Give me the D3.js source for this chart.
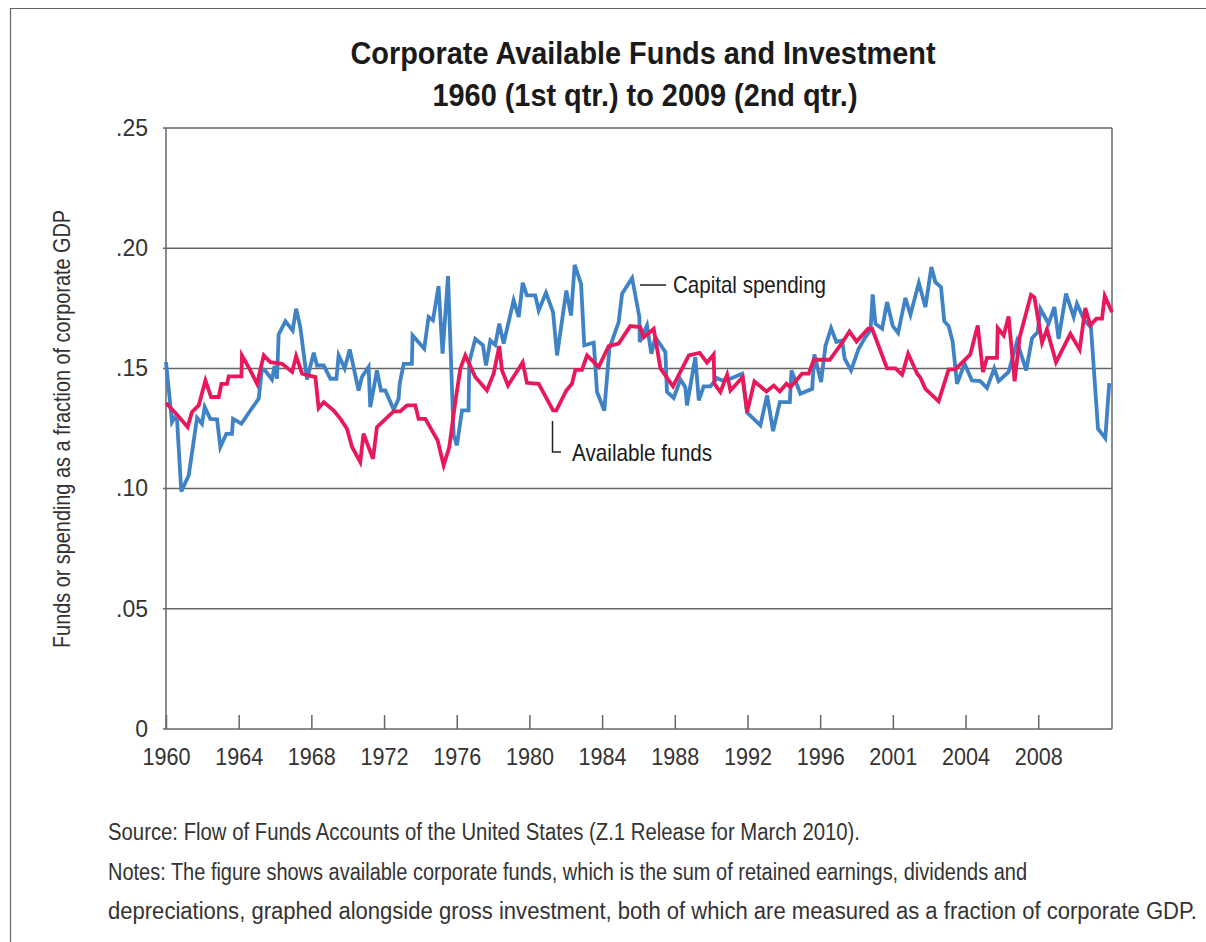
<!DOCTYPE html>
<html>
<head>
<meta charset="utf-8">
<script src="https://cdn.jsdelivr.net/npm/d3@7"></script>
<style>
  body { margin: 0; background: #fff; }
  svg { display: block; }
  text { font-family: "Liberation Sans", Arial, sans-serif; }
</style>
</head>
<body>
<svg id="chart" width="1206" height="942"></svg>
<script>
// capital spending (blue) - [year, fraction of corporate GDP]
var capitalSpending = [
  [1960.00,.1526],[1960.33,.1277],[1960.46,.1295],[1960.61,.1284],[1960.84,.0988],[1961.25,.1055],
  [1961.71,.1295],[1961.98,.1270],[1962.13,.1339],[1962.44,.1290],[1962.81,.1288],[1962.99,.1173],
  [1963.32,.1228],[1963.63,.1228],[1963.69,.1290],[1964.15,.1270],[1964.64,.1325],[1965.10,.1374],
  [1965.28,.1499],[1965.47,.1490],[1965.83,.1454],[1965.98,.1510],[1966.11,.1457],[1966.20,.1641],
  [1966.57,.1696],[1966.97,.1658],[1967.16,.1748],[1967.39,.1672],[1967.76,.1454],[1968.13,.1565],
  [1968.31,.1512],[1968.68,.1512],[1969.05,.1457],[1969.38,.1457],[1969.50,.1554],[1969.83,.1500],
  [1970.11,.1579],[1970.60,.1408],[1970.78,.1464],[1971.15,.1506],[1971.24,.1339],[1971.61,.1492],
  [1971.83,.1408],[1972.07,.1408],[1972.53,.1329],[1972.80,.1374],[1972.86,.1436],[1973.08,.1519],
  [1973.53,.1519],[1973.57,.1637],[1974.21,.1582],[1974.45,.1714],[1974.69,.1700],[1975.00,.1842],
  [1975.22,.1561],[1975.52,.1884],[1975.83,.1221],[1976.01,.1180],[1976.29,.1325],[1976.65,.1325],
  [1976.69,.1526],[1977.02,.1623],[1977.44,.1596],[1977.61,.1512],[1977.85,.1616],[1978.12,.1598],
  [1978.34,.1686],[1978.58,.1603],[1979.13,.1783],[1979.41,.1714],[1979.63,.1856],[1979.86,.1804],
  [1980.32,.1804],[1980.51,.1741],[1980.91,.1815],[1981.30,.1734],[1981.52,.1554],[1982.03,.1824],
  [1982.29,.1720],[1982.49,.1931],[1982.84,.1852],[1983.02,.1596],[1983.54,.1607],[1983.72,.1402],
  [1984.12,.1325],[1984.40,.1582],[1984.91,.1693],[1985.10,.1811],[1985.65,.1876],[1986.05,.1714],
  [1986.07,.1610],[1986.47,.1679],[1986.71,.1561],[1986.93,.1630],[1987.48,.1568],[1987.57,.1402],
  [1987.94,.1377],[1988.31,.1454],[1988.58,.1422],[1988.67,.1346],[1989.13,.1547],[1989.32,.1367],
  [1989.59,.1425],[1989.96,.1425],[1990.32,.1460],[1990.60,.1450],[1991.06,.1457],[1991.70,.1478],
  [1991.98,.1316],[1992.71,.1263],[1993.08,.1388],[1993.41,.1239],[1993.78,.1360],[1994.33,.1360],
  [1994.42,.1492],[1994.91,.1395],[1995.56,.1415],[1995.68,.1558],[1996.05,.1443],[1996.29,.1593],
  [1996.60,.1668],[1996.89,.1610],[1997.21,.1616],[1997.35,.1540],[1997.70,.1492],[1998.12,.1582],
  [1998.49,.1630],[1998.77,.1658],[1998.89,.1808],[1999.04,.1686],[1999.41,.1665],[1999.68,.1776],
  [2000.00,.1676],[2000.29,.1648],[2000.69,.1793],[2000.97,.1723],[2001.43,.1856],[2001.79,.1755],
  [2002.12,.1922],[2002.34,.1859],[2002.65,.1838],[2002.83,.1696],[2003.07,.1676],[2003.29,.1612],
  [2003.53,.1436],[2003.95,.1519],[2004.35,.1450],[2004.81,.1447],[2005.18,.1418],[2005.58,.1500],
  [2005.82,.1447],[2006.37,.1485],[2006.83,.1612],[2007.34,.1492],[2007.66,.1626],[2007.97,.1651],
  [2008.12,.1748],[2008.57,.1686],[2008.89,.1755],[2009.12,.1623],[2009.53,.1811],[2009.95,.1714],
  [2010.13,.1769],[2010.54,.1700],[2010.90,.1672],[2011.29,.1249],[2011.69,.1210],[2011.91,.1439]
];

// available funds (red)
var availableFunds = [
  [1960.00,.1356],[1960.61,.1307],[1961.19,.1256],[1961.43,.1319],[1961.80,.1346],[1962.17,.1450],
  [1962.48,.1381],[1962.90,.1381],[1963.05,.1436],[1963.36,.1436],[1963.45,.1467],[1964.15,.1467],
  [1964.18,.1554],[1964.64,.1492],[1965.01,.1436],[1965.38,.1554],[1965.74,.1526],[1966.39,.1519],
  [1966.94,.1485],[1967.16,.1551],[1967.49,.1478],[1967.85,.1471],[1968.22,.1464],[1968.40,.1335],
  [1968.68,.1360],[1969.23,.1325],[1969.60,.1290],[1969.96,.1249],[1970.24,.1173],[1970.69,.1110],
  [1970.87,.1228],[1971.39,.1124],[1971.61,.1256],[1972.16,.1295],[1972.53,.1321],[1972.89,.1321],
  [1973.26,.1346],[1973.72,.1346],[1973.90,.1290],[1974.27,.1290],[1974.95,.1200],[1975.28,.1097],
  [1975.59,.1173],[1975.92,.1360],[1976.20,.1500],[1976.47,.1554],[1977.02,.1464],[1977.66,.1408],
  [1978.03,.1478],[1978.34,.1593],[1978.49,.1492],[1978.82,.1429],[1979.63,.1526],[1979.86,.1440],
  [1980.51,.1436],[1981.30,.1325],[1981.48,.1325],[1982.03,.1408],[1982.34,.1436],[1982.53,.1494],
  [1982.89,.1494],[1983.17,.1554],[1983.81,.1506],[1984.36,.1593],[1984.91,.1603],[1985.55,.1676],
  [1986.10,.1672],[1986.29,.1630],[1986.84,.1665],[1987.21,.1500],[1987.90,.1425],[1988.77,.1554],
  [1989.37,.1565],[1989.77,.1524],[1990.14,.1558],[1990.18,.1436],[1990.51,.1402],[1990.88,.1474],
  [1991.06,.1408],[1991.74,.1464],[1991.98,.1318],[1992.38,.1446],[1993.04,.1404],[1993.45,.1429],
  [1993.78,.1404],[1994.14,.1436],[1994.36,.1422],[1995.00,.1478],[1995.37,.1478],[1995.65,.1536],
  [1996.53,.1536],[1997.21,.1607],[1997.61,.1654],[1998.00,.1612],[1998.64,.1665],[1998.86,.1665],
  [1999.68,.1500],[2000.14,.1500],[2000.51,.1474],[2000.84,.1561],[2001.34,.1478],[2001.51,.1462],
  [2001.79,.1415],[2002.52,.1363],[2003.07,.1496],[2003.44,.1496],[2004.26,.1558],[2004.67,.1679],
  [2004.96,.1485],[2005.18,.1544],[2005.73,.1544],[2005.77,.1668],[2006.10,.1637],[2006.37,.1716],
  [2006.70,.1446],[2006.98,.1630],[2007.60,.1806],[2007.79,.1796],[2008.21,.1607],[2008.48,.1662],
  [2008.98,.1526],[2009.77,.1644],[2010.28,.1578],[2010.59,.1751],[2010.87,.1679],[2011.20,.1707],
  [2011.51,.1707],[2011.66,.1801],[2012.06,.1734]
];

var xTickYears = [1960, 1964, 1968, 1972, 1976, 1980, 1984, 1988, 1992, 1996, 2000, 2004, 2008];
var xTickLabels = ["1960", "1964", "1968", "1972", "1976", "1980", "1984", "1988", "1992", "1996", "2001", "2004", "2008"];
var yTicks = [0, .05, .10, .15, .20, .25];
var yTickLabels = ["0", ".05", ".10", ".15", ".20", ".25"];

var margin = {top: 128, right: 94, bottom: 213, left: 166},
    width = 1206 - margin.left - margin.right,
    height = 942 - margin.top - margin.bottom;

var svg = d3.select("#chart");

// squeeze a text to the width it has in the print (condensed face)
function squeeze(sel, w) {
  sel.attr("textLength", w).attr("lengthAdjust", "spacingAndGlyphs");
}

// frame around the figure
svg.append("path")
  .attr("d", "M10.5,942V8.5H1206")
  .attr("fill", "none")
  .attr("stroke", "#666")
  .attr("stroke-width", 1.2);

// title
svg.append("text")
  .attr("x", 643).attr("y", 64)
  .attr("text-anchor", "middle")
  .attr("font-weight", "bold")
  .attr("font-size", 32)
  .attr("fill", "#1a1a1a")
  .text("Corporate Available Funds and Investment")
  .call(squeeze, 585);
svg.append("text")
  .attr("x", 645).attr("y", 106)
  .attr("text-anchor", "middle")
  .attr("font-weight", "bold")
  .attr("font-size", 32)
  .attr("fill", "#1a1a1a")
  .text("1960 (1st qtr.) to 2009 (2nd qtr.)")
  .call(squeeze, 425);

var g = svg.append("g")
  .attr("transform", "translate(" + margin.left + "," + margin.top + ")");

var x = d3.scaleLinear().domain([1960, 2012.06]).range([0, width]);
var y = d3.scaleLinear().domain([0, .25]).range([height, 0]);

// horizontal grid lines
g.selectAll(".grid")
  .data(yTicks)
  .enter().append("line")
  .attr("class", "grid")
  .attr("x1", -3)
  .attr("x2", width)
  .attr("y1", function(d) { return y(d); })
  .attr("y2", function(d) { return y(d); })
  .attr("stroke", "#666")
  .attr("stroke-width", 1.5);

// side borders
g.append("line").attr("x1", 0).attr("x2", 0).attr("y1", 0).attr("y2", height)
  .attr("stroke", "#666").attr("stroke-width", 1.5);
g.append("line").attr("x1", width).attr("x2", width).attr("y1", 0).attr("y2", height)
  .attr("stroke", "#666").attr("stroke-width", 1.5);

// x axis, ticks pointing up into the plot
var xAxis = g.append("g")
  .attr("transform", "translate(0," + height + ")")
  .call(d3.axisBottom(x)
    .tickValues(xTickYears)
    .tickSize(-14)
    .tickFormat(function(d, i) { return xTickLabels[i]; }));
xAxis.select(".domain").remove();
xAxis.selectAll("line").attr("stroke", "#666").attr("stroke-width", 1.5);
xAxis.selectAll("text")
  .attr("font-family", null)
  .attr("font-size", 23)
  .attr("fill", "#333")
  .attr("y", 28)
  .attr("dy", "0.35em")
  .call(squeeze, 48);

// y axis labels
var yAxis = g.append("g")
  .call(d3.axisLeft(y)
    .tickValues(yTicks)
    .tickSize(0)
    .tickPadding(18)
    .tickFormat(function(d, i) { return yTickLabels[i]; }));
yAxis.select(".domain").remove();
yAxis.selectAll("text")
  .attr("font-size", 23)
  .attr("fill", "#333");

// y axis title
svg.append("text")
  .attr("transform", "rotate(-90)")
  .attr("x", -429)
  .attr("y", 70)
  .attr("text-anchor", "middle")
  .attr("font-size", 24)
  .attr("fill", "#333")
  .text("Funds or spending as a fraction of corporate GDP")
  .call(squeeze, 438);

var line = d3.line()
  .x(function(d) { return x(d[0]); })
  .y(function(d) { return y(d[1]); });

g.append("path")
  .datum(capitalSpending)
  .attr("d", line)
  .attr("fill", "none")
  .attr("stroke", "#3f82c5")
  .attr("stroke-width", 3.8);

g.append("path")
  .datum(availableFunds)
  .attr("d", line)
  .attr("fill", "none")
  .attr("stroke", "#e8185a")
  .attr("stroke-width", 3.8);

// annotations
svg.append("line")
  .attr("x1", 640).attr("x2", 666).attr("y1", 285).attr("y2", 285)
  .attr("stroke", "#222").attr("stroke-width", 1.5);
svg.append("text")
  .attr("x", 673).attr("y", 293)
  .attr("font-size", 24).attr("fill", "#1a1a1a")
  .text("Capital spending")
  .call(squeeze, 153);

svg.append("path")
  .attr("d", "M552.5,421V452H561")
  .attr("fill", "none")
  .attr("stroke", "#222").attr("stroke-width", 1.5);
svg.append("text")
  .attr("x", 572).attr("y", 461)
  .attr("font-size", 24).attr("fill", "#1a1a1a")
  .text("Available funds")
  .call(squeeze, 140);

// source and notes
var notes = [
  "Source: Flow of Funds Accounts of the United States (Z.1 Release for March 2010).",
  "Notes: The figure shows available corporate funds, which is the sum of retained earnings, dividends and",
  "depreciations, graphed alongside gross investment, both of which are measured as a fraction of corporate GDP."
];
var noteWidths = [752, 919, 1089];
svg.selectAll(".note")
  .data(notes)
  .enter().append("text")
  .attr("class", "note")
  .attr("x", 108)
  .attr("y", function(d, i) { return 840 + i * 39.5; })
  .attr("font-size", 23)
  .attr("fill", "#333")
  .attr("textLength", function(d, i) { return noteWidths[i]; })
  .attr("lengthAdjust", "spacingAndGlyphs")
  .text(function(d) { return d; });
</script>
</body>
</html>
